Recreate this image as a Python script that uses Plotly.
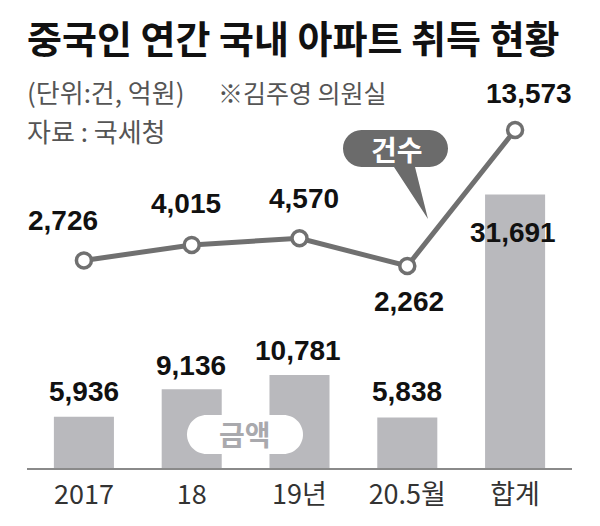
import plotly.graph_objects as go

# ---------------- data ----------------
categories = ["2017", "18", "19년", "20.5월", "합계"]
amounts = [5936, 9136, 10781, 5838, 31691]      # 금액 (억원)
counts = [2726, 4015, 4570, 2262, 13573]        # 건수 (건)

title_text = "중국인 연간 국내 아파트 취득 현황"
unit_text = "(단위:건, 억원)"
office_text = "※김주영 의원실"
source_text = "자료 : 국세청"
count_tag = "건수"
amount_tag = "금액"

# ---------------- styles ----------------
W, H = 600, 526
BAR_COLOR = "#b9b9bd"
LINE_COLOR = "#707070"
BUBBLE_COLOR = "#6b6b6b"
KR = "Noto Sans CJK KR"
NUM = "Liberation Sans"
TICK = "Liberation Sans Narrow, Noto Sans CJK KR"

bar_label_dx = [0, -1, -1.5, 0, -2]
bar_label_dy = [25, 24, 24, 26, -38]
line_label_dx = [-21, -6, 4.5, 2, 14]
line_label_dy = [40, 41, 40, -35, 37]


def X(px):
    return px / W


def Y(py):
    return 1 - py / H


def path_from(cmds):
    out = []
    for c in cmds:
        if c == "Z":
            out.append("Z")
            continue
        op, *nums = c
        pts = []
        for i in range(0, len(nums), 2):
            pts.append(f"{X(nums[i]):.5f},{Y(nums[i+1]):.5f}")
        out.append(op + " " + " ".join(pts))
    return " ".join(out)


def pill(x0, y0, x1, y1, tail=None):
    r = (y1 - y0) / 2
    k = 0.5523 * r
    cmds = [("M", x0 + r, y0), ("L", x1 - r, y0),
            ("C", x1 - r + k, y0, x1, y1 - r - k, x1, y0 + r),
            ("C", x1, y0 + r + k, x1 - r + k, y1, x1 - r, y1)]
    if tail:
        (tr, tip, tl) = tail
        cmds += [("L", tr, y1), ("L", tip[0], tip[1]), ("L", tl, y1)]
    cmds += [("L", x0 + r, y1),
             ("C", x0 + r - k, y1, x0, y0 + r + k, x0, y0 + r),
             ("C", x0, y0 + r - k, x0 + r - k, y0, x0 + r, y0), "Z"]
    return path_from(cmds)


fig = go.Figure()
fig.add_trace(go.Bar(
    x=categories, y=amounts, marker=dict(color=BAR_COLOR, line=dict(width=0)),
    width=0.557, yaxis="y", hoverinfo="skip", showlegend=False))
fig.add_trace(go.Scatter(
    x=categories, y=counts, yaxis="y2", mode="lines+markers",
    line=dict(color=LINE_COLOR, width=5),
    marker=dict(size=15, color="white", line=dict(color=LINE_COLOR, width=3.5)),
    hoverinfo="skip", showlegend=False))

annotations = []
for i, v in enumerate(amounts):
    annotations.append(dict(
        x=i, y=v, xref="x", yref="y", text=f"{v:,}", showarrow=False,
        xanchor="center", yanchor="middle", xshift=bar_label_dx[i], yshift=bar_label_dy[i],
        font=dict(family=NUM, size=28, color="#111111", weight="bold")))
for i, v in enumerate(counts):
    annotations.append(dict(
        x=i, y=v, xref="x", yref="y2", text=f"{v:,}", showarrow=False,
        xanchor="center", yanchor="middle", xshift=line_label_dx[i], yshift=line_label_dy[i],
        font=dict(family=NUM, size=28, color="#111111", weight="bold")))

annotations += [
    dict(x=X(25), y=Y(37), xref="paper", yref="paper", text=title_text, showarrow=False,
         xanchor="left", yanchor="middle",
         font=dict(family=KR, size=38, color="#111111", weight="bold")),
    dict(x=X(25), y=Y(92), xref="paper", yref="paper", text=unit_text, showarrow=False,
         xanchor="left", yanchor="middle", font=dict(family=KR, size=26, color="#555555")),
    dict(x=X(216), y=Y(92), xref="paper", yref="paper", text=office_text, showarrow=False,
         xanchor="left", yanchor="middle", font=dict(family=KR, size=25, color="#555555")),
    dict(x=X(25), y=Y(131), xref="paper", yref="paper", text=source_text, showarrow=False,
         xanchor="left", yanchor="middle", font=dict(family=KR, size=26, color="#555555")),
    dict(x=X(397), y=Y(149), xref="paper", yref="paper", text=count_tag, showarrow=False,
         xanchor="center", yanchor="middle",
         font=dict(family=KR, size=28, color="white", weight="bold")),
    dict(x=X(245), y=Y(434), xref="paper", yref="paper", text=amount_tag, showarrow=False,
         xanchor="center", yanchor="middle",
         font=dict(family=KR, size=28, color="#a9a9ad", weight="bold")),
]

shapes = [
    dict(type="path", xref="paper", yref="paper", layer="above",
         path=pill(343, 130, 448, 167, tail=(415, (428, 219), 394)),
         fillcolor=BUBBLE_COLOR, line=dict(width=0)),
    dict(type="path", xref="paper", yref="paper", layer="above",
         path=pill(187, 415, 303, 454),
         fillcolor="white", line=dict(width=0)),
]

fig.update_layout(
    width=W, height=H, margin=dict(l=0, r=0, t=0, b=0),
    paper_bgcolor="white", plot_bgcolor="white",
    xaxis=dict(domain=[X(27), X(572)], type="category", range=[-0.528, 4.528],
               showline=True, linecolor="#8a8a8a", linewidth=1.5, ticks="",
               showgrid=False, zeroline=False, ticklabelstandoff=2,
               tickfont=dict(family=TICK, size=27, color="#333333")),
    yaxis=dict(domain=[Y(468), Y(60)], range=[0, 47277], visible=False),
    yaxis2=dict(domain=[Y(468), Y(60)], range=[-14542, 19401], overlaying="y", visible=False),
    annotations=annotations, shapes=shapes, showlegend=False,
)

fig.write_html("out.html")
